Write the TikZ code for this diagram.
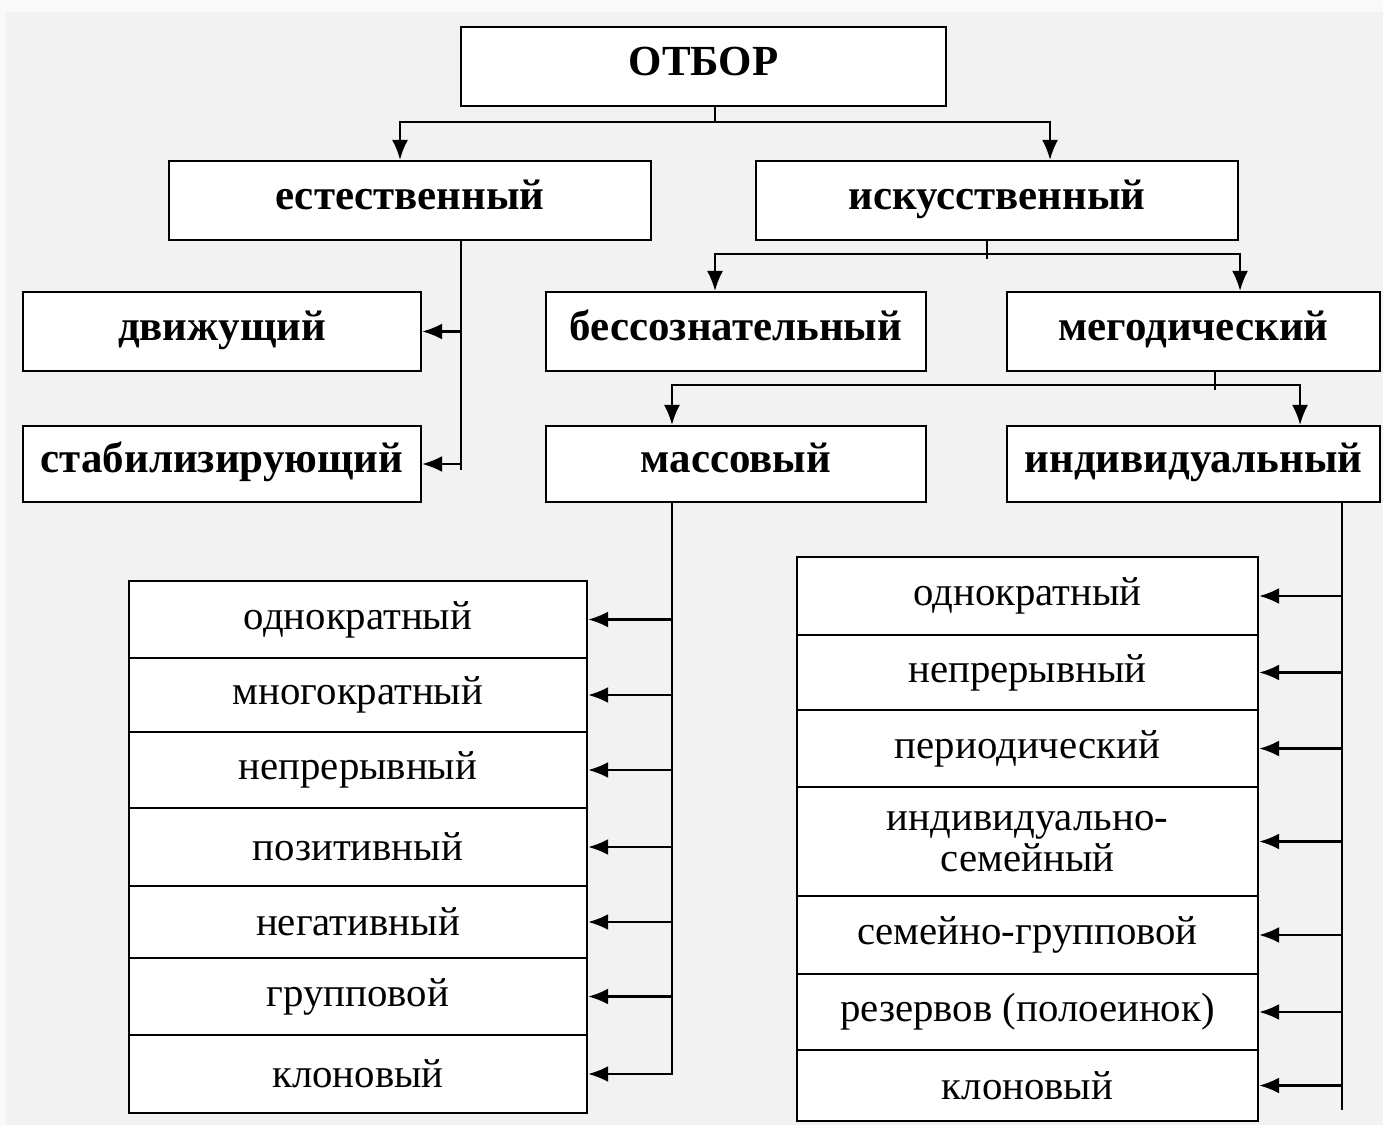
\documentclass[tikz,border=0pt]{standalone}
\usepackage{fontspec}
\setmainfont{Liberation Serif}
\usetikzlibrary{arrows.meta, positioning, calc}

\definecolor{bgfill}{HTML}{F2F2F2}
\definecolor{bgedge}{HTML}{F9F9F9}

\begin{document}
\begin{tikzpicture}[x=0.01cm, y=-0.01cm, >={Latex[length=2mm, width=1.6mm]}]
  \tikzset{
    head/.style={draw, fill=white, line width=0.6pt, inner sep=0pt,
      text height=0.7em, text depth=0.2em,
      font=\bfseries\fontsize{12.2}{14}\selectfont},
    item/.style={draw, fill=white, line width=0.6pt, inner sep=0pt, align=center,
      font=\fontsize{11.6}{11.6}\selectfont},
    link/.style={line width=0.6pt, ->}
  }
  % Background
  \useasboundingbox (0,0) rectangle (1383,1125);
  \fill[bgedge] (0,0) rectangle (1383,1125);
  \fill[bgfill] (6,12) rectangle (1383,1125);
  % Headings
  \foreach \nm/\x/\y/\w/\h/\txt in {
    otbor/703.5/66.5/4.85/0.79/{ОТБОР},
    nat/410/200.5/4.82/0.79/{естественный},
    art/997/200.5/4.82/0.79/{искусственный},
    drive/222/331.5/3.98/0.79/{движущий},
    stab/222/464/3.98/0.76/{стабилизирующий},
    uncon/736/331.5/3.80/0.79/{бессознательный},
    meth/1193.5/331.5/3.73/0.79/{мегодический},
    mass/736/464/3.80/0.76/{массовый},
    indiv/1193.5/464/3.73/0.76/{индивидуальный}} {
    \node[head, minimum width=\w cm, minimum height=\h cm] (\nm) at (\x,\y) {\txt};
  }
  % Forks
  \coordinate (f1) at (715,122);
  \draw[line width=0.6pt] (otbor.south -| f1) -- (f1);
  \draw[link] (f1) -| ([xshift=-0.1cm]nat.north);
  \draw[link] (f1) -| ([xshift=0.53cm]art.north);
  \coordinate (f2) at (987,254);
  \draw[line width=0.6pt] (art.south -| f2) -- ([yshift=-0.05cm]f2);
  \draw[link] (f2) -| ([xshift=-0.21cm]uncon.north);
  \draw[link] (f2) -| ([xshift=0.465cm]meth.north);
  \coordinate (f3) at (1215,385);
  \draw[line width=0.6pt] (meth.south -| f3) -- ([yshift=-0.05cm]f3);
  \draw[link] (f3) -| ([xshift=-0.64cm]mass.north);
  \draw[link] (f3) -| ([xshift=1.065cm]indiv.north);
  % Natural selection
  \coordinate (s1) at (461,470);
  \draw[line width=0.6pt] (nat.south -| s1) -- (s1);
  \draw[link] (s1 |- drive.east) -- (drive.east);
  \draw[link] (s1 |- stab.east) -- (stab.east);
  % Mass selection list
  \coordinate (s2) at (672,1075);
  \draw[line width=0.6pt] (mass.south -| s2) -- (s2);
  \foreach \i/\y/\h/\txt in {
    1/619.5/0.77/{однократный},
    2/695/0.74/{многократный},
    3/770/0.76/{непрерывный},
    4/847/0.78/{позитивный},
    5/922/0.72/{негативный},
    6/996.5/0.77/{групповой},
    7/1074/0.78/{клоновый}} {
    \node[item, minimum width=4.58cm, minimum height=\h cm] (l\i) at (358,\y) {\txt};
    \draw[link] (s2 |- l\i.east) -- (l\i.east);
  }
  % Individual selection list
  \coordinate (s3) at (1342,1110);
  \draw[line width=0.6pt] (indiv.south -| s3) -- (s3);
  \foreach \i/\y/\h/\txt in {
    1/596/0.78/{однократный},
    2/672.5/0.75/{непрерывный},
    3/748.5/0.77/{периодический},
    4/841.5/1.09/{индивидуально-\\семейный},
    5/935/0.78/{семейно-групповой},
    6/1012/0.76/{резервов (полоеинок)},
    7/1085.5/0.71/{клоновый}} {
    \node[item, minimum width=4.61cm, minimum height=\h cm] (r\i) at (1027.5,\y) {\txt};
    \draw[link] (s3 |- r\i.east) -- (r\i.east);
  }
\end{tikzpicture}
\end{document}
